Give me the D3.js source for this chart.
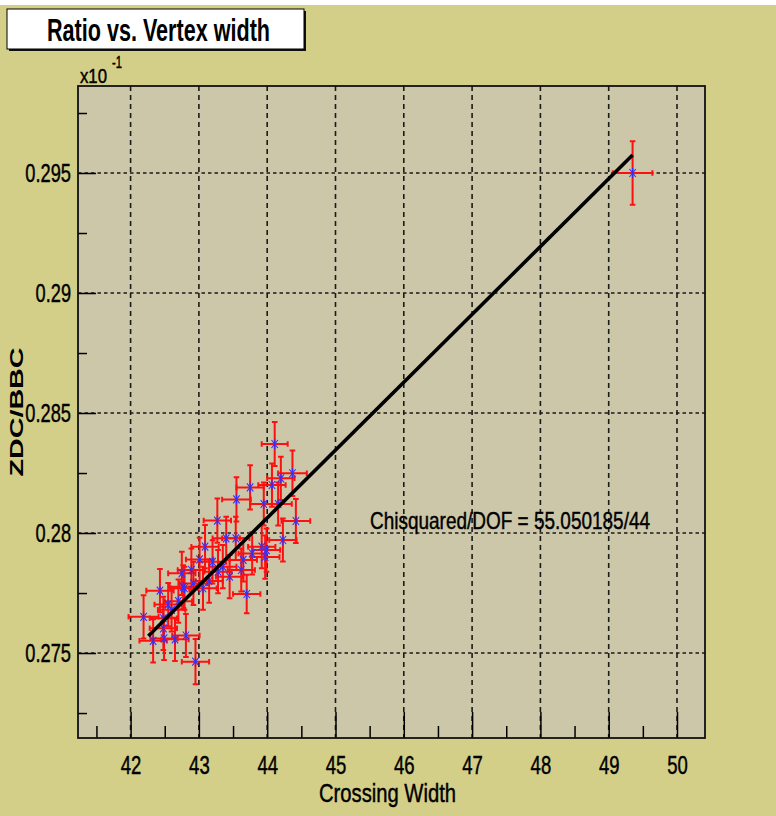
<!DOCTYPE html>
<html>
<head>
<meta charset="utf-8">
<script src="https://cdn.jsdelivr.net/npm/d3@7"></script>
<style>
  html, body { margin: 0; padding: 0; background: #d4cf88; }
  svg { display: block; }
  text { font-family: "Liberation Sans", Arial, sans-serif; fill: #000; }
  .heavy { stroke: #000; stroke-width: 0.45px; }
</style>
</head>
<body>
<svg id="chart" width="776" height="816"></svg>
<script>
// Measured crossing widths and ZDC/BBC ratios with their errors
const crossingWidth = [
  49.35, 44.11, 44.37, 44.20, 44.07, 43.75, 43.55, 44.16, 43.95, 43.27,
  44.42, 44.23, 43.40, 43.54, 43.92, 43.78, 43.97, 43.09, 43.01, 42.89,
  42.75, 43.28, 43.45, 43.62, 43.65, 43.06, 42.79, 42.92, 42.43, 42.70,
  42.55, 43.70, 42.19, 42.48, 42.48, 42.33, 42.49, 42.65, 42.81, 42.95,
  42.77, 43.99, 43.20, 43.35, 43.15, 42.60
];
const ratio = [
  0.29500, 0.28371, 0.28249, 0.28228, 0.28200, 0.28190, 0.28140, 0.28121, 0.28121, 0.28052,
  0.28050, 0.27971, 0.27978, 0.27978, 0.27943, 0.27915, 0.27900, 0.27943, 0.27890, 0.27846,
  0.27832, 0.27839, 0.27818, 0.27846, 0.27888, 0.27770, 0.27770, 0.27790, 0.27760, 0.27716,
  0.27702, 0.27746, 0.27651, 0.27645, 0.27603, 0.27551, 0.27561, 0.27557, 0.27573, 0.27464,
  0.27776, 0.27929, 0.27880, 0.27860, 0.27800, 0.27680
];
const widthErr = [
  0.29, 0.19, 0.21, 0.20, 0.20, 0.20, 0.21, 0.20, 0.20, 0.20,
  0.21, 0.20, 0.20, 0.20, 0.20, 0.20, 0.21, 0.20, 0.20, 0.20,
  0.20, 0.20, 0.20, 0.20, 0.20, 0.20, 0.20, 0.20, 0.20, 0.20,
  0.20, 0.20, 0.22, 0.20, 0.20, 0.20, 0.20, 0.20, 0.20, 0.20,
  0.20, 0.20, 0.20, 0.20, 0.20, 0.20
];
const ratioErr = [
  0.00132, 0.00092, 0.00095, 0.00090, 0.00090, 0.00092, 0.00092, 0.00090, 0.00090, 0.00092,
  0.00092, 0.00090, 0.00090, 0.00090, 0.00090, 0.00088, 0.00090, 0.00090, 0.00090, 0.00090,
  0.00090, 0.00090, 0.00090, 0.00090, 0.00090, 0.00090, 0.00090, 0.00090, 0.00090, 0.00090,
  0.00090, 0.00080, 0.00090, 0.00090, 0.00090, 0.00090, 0.00090, 0.00090, 0.00090, 0.00094,
  0.00090, 0.00090, 0.00090, 0.00090, 0.00090, 0.00090
];

// Straight-line fit: ratio = fitIntercept + fitSlope * width
const fitIntercept = 0.15624;
const fitSlope = 0.002827;
const fitRange = [42.26, 49.35];

// Axis ticks and labels
const xMajorTicks = [42, 43, 44, 45, 46, 47, 48, 49, 50];
const xMinorTicks = [41.5, 42.5, 43.5, 44.5, 45.5, 46.5, 47.5, 48.5, 49.5];
const yMajorTicks = [0.275, 0.28, 0.285, 0.29, 0.295];
const yMinorTicks = [0.2725, 0.2775, 0.2825, 0.2875, 0.2925, 0.2975];
const yTickLabels = ["0.275", "0.28", "0.285", "0.29", "0.295"];

const titleText = "Ratio vs. Vertex width";
const xTitle = "Crossing Width";
const yTitle = "ZDC/BBC";
const fitText = "Chisquared/DOF = 55.050185/44";

const svg = d3.select("#chart");
const frame = { left: 78, right: 705, top: 86, bottom: 738 };

const x = d3.scaleLinear().domain([41.23, 50.41]).range([frame.left, frame.right]);
const y = d3.scaleLinear().domain([0.27146, 0.298625]).range([frame.bottom, frame.top]);

// width of a condensed label: digits and dots
const labelWidth = s => [...s].reduce((w, c) => w + (c === "." ? 4.5 : 10.3), 0);

// background
svg.append("rect").attr("width", 776).attr("height", 816).attr("fill", "#d4cf88");
svg.append("rect").attr("width", 776).attr("height", 5).attr("fill", "#ffffff");

// plot area
svg.append("rect")
  .attr("x", frame.left).attr("y", frame.top)
  .attr("width", frame.right - frame.left).attr("height", frame.bottom - frame.top)
  .attr("fill", "#cdc7aa");

// grid
const grid = svg.append("g").attr("stroke", "#1a1a1a").attr("stroke-width", 1.6);
grid.selectAll("line.gx").data(xMajorTicks).join("line")
  .attr("x1", d => x(d)).attr("x2", d => x(d))
  .attr("y1", frame.top).attr("y2", frame.bottom)
  .attr("stroke-dasharray", "5,4");
grid.selectAll("line.gy").data(yMajorTicks).join("line")
  .attr("y1", d => y(d)).attr("y2", d => y(d))
  .attr("x1", frame.left).attr("x2", frame.right)
  .attr("stroke-dasharray", "3.5,3");

// axes (ticks point into the frame)
const axisStyle = g => {
  g.select(".domain").remove();
  g.selectAll(".tick line").attr("stroke", "#000").attr("stroke-width", 1.5);
};

svg.append("g").attr("transform", `translate(0,${frame.bottom})`)
  .call(d3.axisBottom(x).tickValues(xMinorTicks).tickSize(-12).tickFormat(""))
  .call(axisStyle);
svg.append("g").attr("transform", `translate(${frame.left},0)`)
  .call(d3.axisLeft(y).tickValues(yMinorTicks).tickSize(-9).tickFormat(""))
  .call(axisStyle);

const xAxis = svg.append("g").attr("transform", `translate(0,${frame.bottom})`)
  .call(d3.axisBottom(x).tickValues(xMajorTicks).tickSize(-26).tickPadding(18).tickFormat(d3.format("d")))
  .call(axisStyle);
xAxis.selectAll(".tick text")
  .attr("font-size", 25).attr("font-family", "Liberation Sans, Arial, sans-serif")
  .attr("fill", "#000").attr("class", "heavy")
  .each(function() {
    const t = d3.select(this);
    t.attr("textLength", labelWidth(t.text())).attr("lengthAdjust", "spacingAndGlyphs");
  });

const yAxis = svg.append("g").attr("transform", `translate(${frame.left},0)`)
  .call(d3.axisLeft(y).tickValues(yMajorTicks).tickSize(-18).tickPadding(7)
    .tickFormat((d, i) => yTickLabels[i]))
  .call(axisStyle);
yAxis.selectAll(".tick text")
  .attr("font-size", 26).attr("font-family", "Liberation Sans, Arial, sans-serif")
  .attr("fill", "#000").attr("class", "heavy")
  .each(function() {
    const t = d3.select(this);
    t.attr("textLength", labelWidth(t.text())).attr("lengthAdjust", "spacingAndGlyphs");
  });

// data points with error bars
const pts = crossingWidth.map((w, i) => ({ w, r: ratio[i], ew: widthErr[i], er: ratioErr[i] }));
const bars = svg.append("g").attr("stroke", "#ff1010").attr("stroke-width", 2).attr("fill", "none");
const cap = 2.8;
pts.forEach(p => {
  const cx = x(p.w), cy = y(p.r);
  const x0 = x(p.w - p.ew), x1 = x(p.w + p.ew);
  const y0 = y(p.r - p.er), y1 = y(p.r + p.er);
  bars.append("path").attr("d",
    `M${x0},${cy}H${x1}` +
    `M${cx},${y0}V${y1}` +
    `M${x0},${cy - cap}V${cy + cap}M${x1},${cy - cap}V${cy + cap}` +
    `M${cx - cap},${y0}H${cx + cap}M${cx - cap},${y1}H${cx + cap}`);
});

const marks = svg.append("g").attr("stroke", "#3030ff").attr("stroke-width", 1.1).attr("fill", "none");
pts.forEach(p => {
  const cx = x(p.w), cy = y(p.r);
  marks.append("path").attr("d",
    `M${cx},${cy - 5}V${cy + 5}` +
    `M${cx - 3.2},${cy - 4}L${cx + 3.2},${cy + 4}` +
    `M${cx - 3.2},${cy + 4}L${cx + 3.2},${cy - 4}`);
});

// fit line
svg.append("path")
  .datum(fitRange)
  .attr("fill", "none").attr("stroke", "#000").attr("stroke-width", 3.6)
  .attr("d", d3.line().x(d => x(d)).y(d => y(fitIntercept + fitSlope * d)));

// frame border
svg.append("rect")
  .attr("x", frame.left).attr("y", frame.top)
  .attr("width", frame.right - frame.left).attr("height", frame.bottom - frame.top)
  .attr("fill", "none").attr("stroke", "#111").attr("stroke-width", 1.8);

// fit result text
svg.append("text").attr("x", 370).attr("y", 529).attr("class", "heavy")
  .attr("font-size", 24).attr("textLength", 280).attr("lengthAdjust", "spacingAndGlyphs")
  .text(fitText);

// exponent label
svg.append("text").attr("x", 80).attr("y", 83).attr("class", "heavy")
  .attr("font-size", 21).attr("textLength", 27).attr("lengthAdjust", "spacingAndGlyphs")
  .text("x10");
svg.append("text").attr("x", 112).attr("y", 68).attr("class", "heavy")
  .attr("font-size", 17).attr("textLength", 10).attr("lengthAdjust", "spacingAndGlyphs")
  .text("-1");

// axis titles
svg.append("text").attr("x", 319).attr("y", 802).attr("class", "heavy")
  .attr("font-size", 26).attr("textLength", 137).attr("lengthAdjust", "spacingAndGlyphs")
  .text(xTitle);
svg.append("text")
  .attr("transform", "translate(23,412) rotate(-90)")
  .attr("text-anchor", "middle")
  .attr("font-family", "Liberation Serif, serif").attr("font-weight", "bold")
  .attr("font-size", 19).attr("textLength", 129).attr("lengthAdjust", "spacingAndGlyphs")
  .text(yTitle);

// title box
svg.append("rect").attr("x", 9).attr("y", 11).attr("width", 297).attr("height", 40).attr("fill", "#111");
svg.append("rect").attr("x", 7).attr("y", 9).attr("width", 297).attr("height", 40)
  .attr("fill", "#fff").attr("stroke", "#000").attr("stroke-width", 1);
svg.append("text").attr("x", 47).attr("y", 41)
  .attr("font-size", 31).attr("font-weight", "bold")
  .attr("textLength", 223).attr("lengthAdjust", "spacingAndGlyphs")
  .text(titleText);
</script>
</body>
</html>
